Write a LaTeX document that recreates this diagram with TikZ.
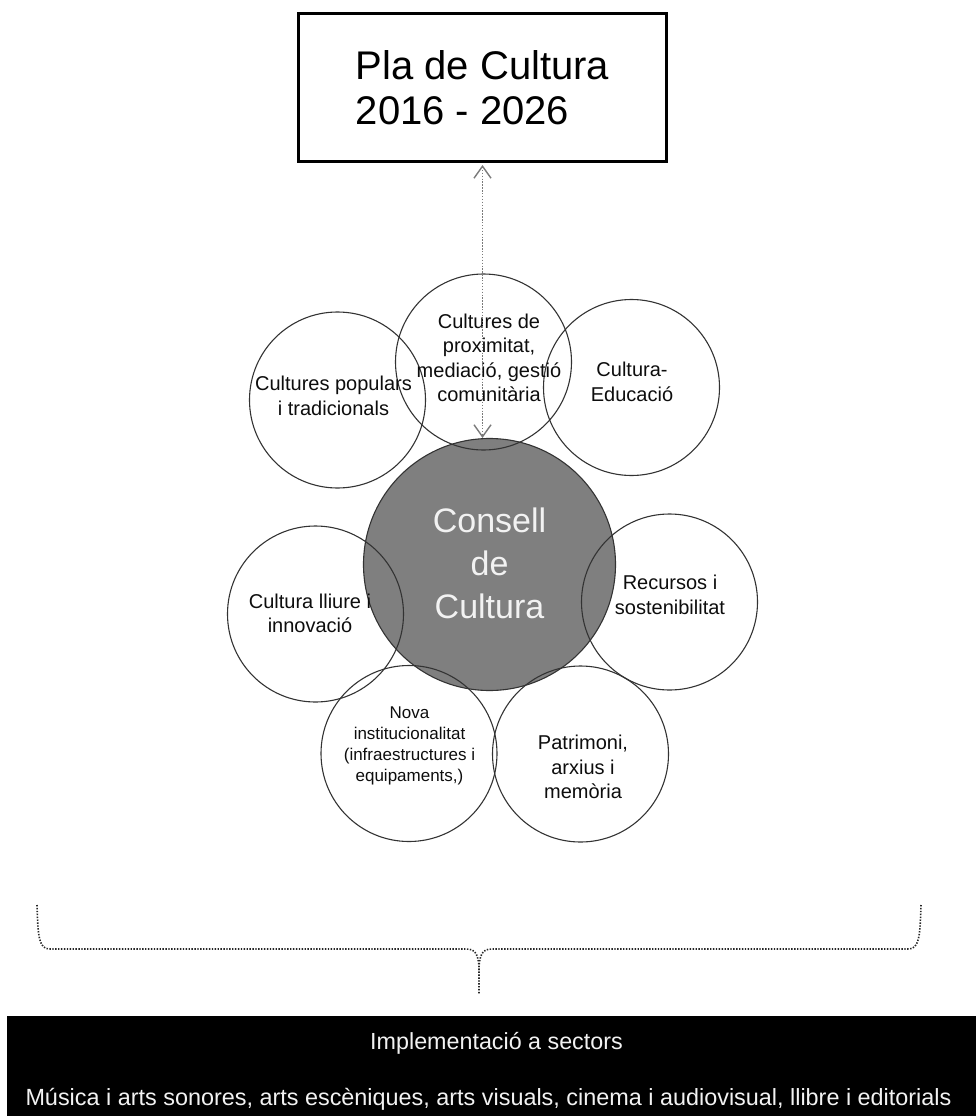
\documentclass[tikz,border=0pt]{standalone}
\usepackage{fontspec}
\setmainfont{Liberation Sans}
\usetikzlibrary{arrows.meta}
\definecolor{cline}{HTML}{333333}
\definecolor{cfill}{HTML}{7F7F7F}
\definecolor{arrowgrey}{HTML}{7A7A7A}
\definecolor{lighttext}{HTML}{F2F2F2}
\definecolor{darktext}{HTML}{0D0D0D}
\tikzset{
  titlebox/.style={draw=black, line width=3pt, minimum width=368pt, minimum height=148pt,
    align=left, inner sep=0pt, font=\fontsize{40}{45}\selectfont},
  bubble/.style={circle, draw=cline, line width=1.1pt, minimum size=176pt, inner sep=0pt},
  bubbletext/.style={align=center, inner sep=0pt, text=darktext, font=\fontsize{20}{24.5}\selectfont},
  smalltext/.style={align=center, inner sep=0pt, text=darktext, font=\fontsize{17}{21}\selectfont},
  core/.style={circle, draw=cline, fill=cfill, line width=1.1pt, minimum size=252pt, inner sep=0pt},
  coretext/.style={align=center, inner sep=0pt, text=lighttext, font=\fontsize{34}{43}\selectfont},
  link/.style={draw=arrowgrey, line width=1.6pt, dash pattern=on 1.4pt off 1.5pt,
    {Straight Barb[length=12pt,width=17pt,line width=1.4pt]}-{Straight Barb[length=12pt,width=17pt,line width=1.4pt]}},
  bracestyle/.style={draw=black!85, line width=1.6pt, dash pattern=on 1.4pt off 1.5pt},
  bandtext/.style={inner sep=0pt, text=lighttext, anchor=base}
}
\begin{document}
\begin{tikzpicture}[x=1pt,y=-1pt]
\useasboundingbox (0,0) rectangle (976,1116);

% title
\node[titlebox] (title) at (482.5,87.5) {Pla de Cultura\\2016 - 2026};

% central circle
\node[core] (consell) at (489.5,564.5) {};
\node[coretext] (consellt) at (489.5,563) {Consell\\de\\Cultura};

% surrounding circles
\node[bubble] (popul) at (337.5,400) {};
\node[bubble] (proxi) at (483.5,362) {};
\node[bubble] (educ) at (631.5,387.5) {};
\node[bubble] (lliure) at (315.5,614) {};
\node[bubble] (recur) at (669.5,602) {};
\node[bubble] (nova) at (409,753.5) {};
\node[bubble] (patri) at (580.5,754) {};

\node[bubbletext] (populT) at (333.5,396) {Cultures populars\\i tradicionals};
\node[bubbletext] (proxiT) at (489,358) {Cultures de\\proximitat,\\mediació, gestió\\comunitària};
\node[bubbletext] (educT) at (632,382) {Cultura-\\Educació};
\node[bubbletext] (lliureT) at (310,613.5) {Cultura lliure i\\innovació};
\node[bubbletext] (recurT) at (670,595) {Recursos i\\sostenibilitat};
\node[smalltext] (novaT) at (409.5,746) {Nova\\institucionalitat\\(infraestructures i\\equipaments,)};
\node[bubbletext] (patriT) at (583,767) {Patrimoni,\\arxius i\\memòria};

% dotted double arrow
\draw[link] ([yshift=-2pt]title.south) -- (title.south |- consell.north);

% brace
\coordinate (bl) at (37,905);
\coordinate (br) at (921,905);
\coordinate (btip) at (479,994);
\draw[bracestyle] (bl) .. controls (38,938) and (39,949) .. (50,949) -- (466,949)
  .. controls (475,949) and (479,953) .. (479,972) -- (btip);
\draw[bracestyle] (br) .. controls (920,938) and (919,949) .. (908,949) -- (492,949)
  .. controls (483,949) and (479,953) .. (479,972);

% bottom band
\node[fill=black, draw=none, minimum width=969pt, minimum height=100pt, inner sep=0pt, anchor=north west] (band) at (7,1016) {};
\node[bandtext, font=\fontsize{23.3}{26}\selectfont] (bandtitle) at (496.5,1049) {Implementació a sectors};
\node[bandtext, font=\fontsize{23.4}{26}\selectfont] (bandlist) at (488.5,1105) {Música i arts sonores, arts escèniques, arts visuals, cinema i audiovisual, llibre i editorials};
\end{tikzpicture}
\end{document}
